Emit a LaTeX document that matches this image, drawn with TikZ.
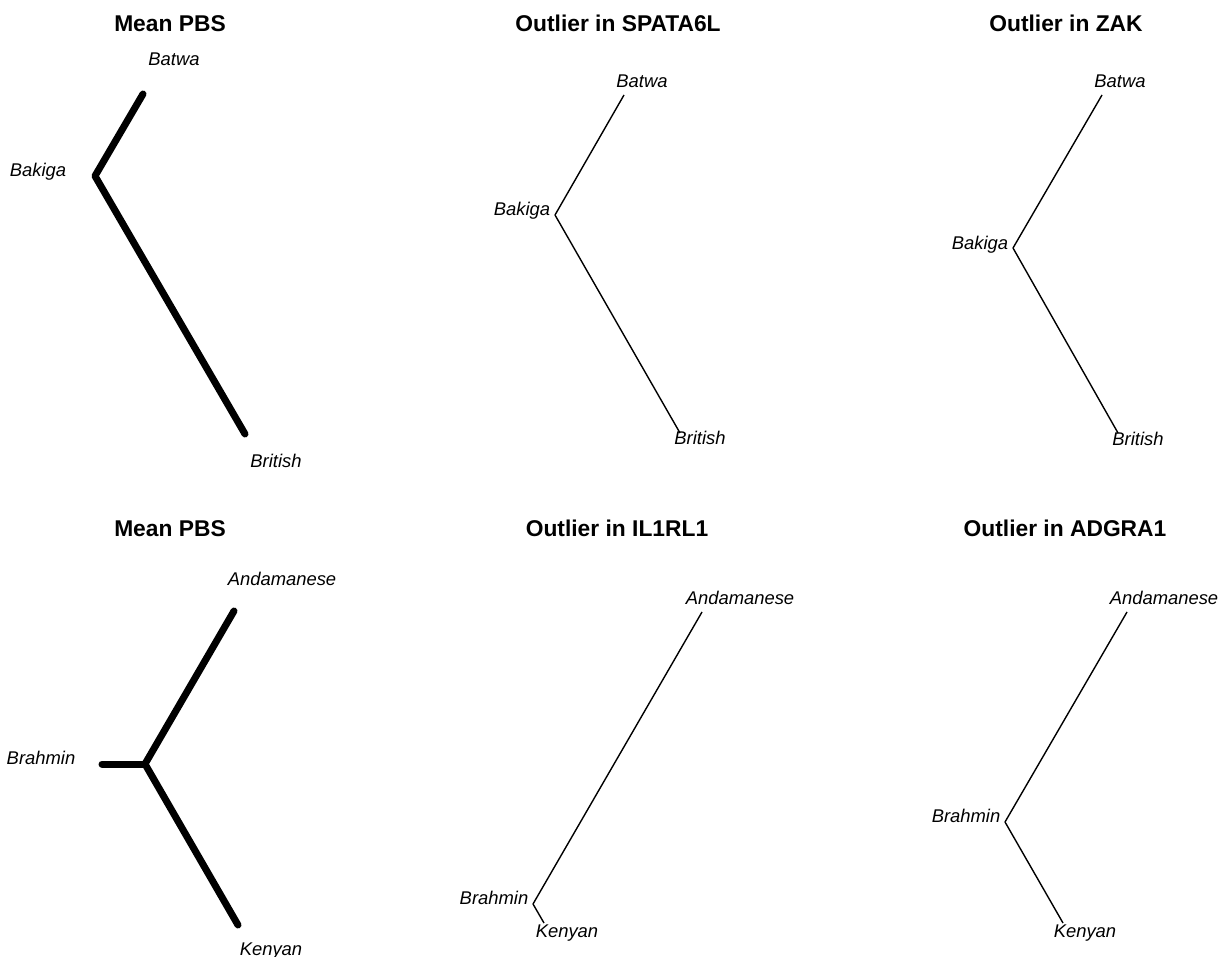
\documentclass[tikz,border=0pt]{standalone}
\usepackage{fontspec}
\setmainfont{Liberation Sans}
\tikzset{
  ptitle/.style={anchor=base,inner sep=0pt,font=\fontsize{22.8}{26}\selectfont\bfseries},
  tiplab/.style={anchor=base,inner sep=0pt,font=\fontsize{18.4}{22}\selectfont\itshape},
  meanedge/.style={line width=7pt,line cap=round,line join=round},
  geneedge/.style={line width=1.4pt}
}
\begin{document}
\begin{tikzpicture}[x=1pt,y=-1pt]
\useasboundingbox (0,0) rectangle (1220,957);

% top row: Batwa, Bakiga, British
\node[ptitle] (t1) at (170,32) {Mean PBS};
\coordinate (batwaA) at (143,94);
\coordinate (bakigaA) at (95,176);
\coordinate (britishA) at (245,434);
\node[tiplab] (lbatwaA) at (174,65.5) {Batwa};
\node[tiplab] (lbakigaA) at (38,176.5) {Bakiga};
\node[tiplab] (lbritishA) at (276,467.5) {British};
\draw[meanedge] (batwaA)--(bakigaA)--(britishA);

\node[ptitle] (t2) at (618,32) {Outlier in SPATA6L};
\coordinate (batwaB) at (624,95);
\coordinate (bakigaB) at (555,215);
\coordinate (britishB) at (680,433);
\node[tiplab] (lbatwaB) at (642,87.5) {Batwa};
\node[tiplab] (lbakigaB) at (522,215.5) {Bakiga};
\node[tiplab] (lbritishB) at (700,444.5) {British};
\draw[geneedge] (batwaB)--(bakigaB);
\draw[geneedge] (bakigaB)--(britishB);

\node[ptitle] (t3) at (1066,32) {Outlier in ZAK};
\coordinate (batwaC) at (1102,95);
\coordinate (bakigaC) at (1013,248);
\coordinate (britishC) at (1118,433);
\node[tiplab] (lbatwaC) at (1120,87.5) {Batwa};
\node[tiplab] (lbakigaC) at (980,249.5) {Bakiga};
\node[tiplab] (lbritishC) at (1138,445.5) {British};
\draw[geneedge] (batwaC)--(bakigaC);
\draw[geneedge] (bakigaC)--(britishC);

% bottom row: Andamanese, Brahmin, Kenyan
\node[ptitle] (t4) at (170,536) {Mean PBS};
\coordinate (andaD) at (234,611);
\coordinate (rootD) at (145,764);
\coordinate (brahD) at (102,764);
\coordinate (kenyD) at (238,925);
\node[tiplab] (landaD) at (282,585.5) {Andamanese};
\node[tiplab] (lbrahD) at (41,764.5) {Brahmin};
\node[tiplab] (lkenyD) at (271,955) {Kenyan};
\draw[meanedge] (andaD)--(rootD);
\draw[meanedge] (brahD)--(rootD);
\draw[meanedge] (rootD)--(kenyD);

\node[ptitle] (t5) at (617,536) {Outlier in IL1RL1};
\coordinate (andaE) at (702,612);
\coordinate (brahE) at (533,904);
\coordinate (kenyE) at (544,923);
\node[tiplab] (landaE) at (740,604.5) {Andamanese};
\node[tiplab] (lbrahE) at (494,904.5) {Brahmin};
\node[tiplab] (lkenyE) at (567,937.5) {Kenyan};
\draw[geneedge] (andaE)--(brahE);
\draw[geneedge] (brahE)--(kenyE);

\node[ptitle] (t6) at (1065,536) {Outlier in ADGRA1};
\coordinate (andaF) at (1127,612);
\coordinate (brahF) at (1005,822);
\coordinate (kenyF) at (1063,923);
\node[tiplab] (landaF) at (1164,604.5) {Andamanese};
\node[tiplab] (lbrahF) at (966,822.5) {Brahmin};
\node[tiplab] (lkenyF) at (1085,937.5) {Kenyan};
\draw[geneedge] (andaF)--(brahF);
\draw[geneedge] (brahF)--(kenyF);
\end{tikzpicture}
\end{document}
